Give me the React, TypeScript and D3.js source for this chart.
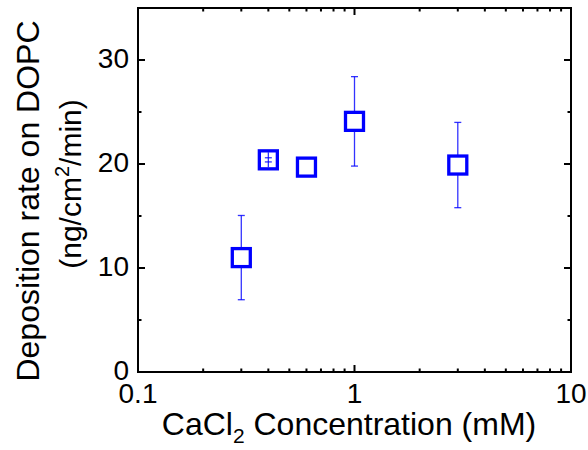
import React from "react";
import * as d3 from "d3";

const concentrations = [0.3, 0.4, 0.6, 1, 3];
const rates = [11.0, 20.4, 19.7, 24.1, 19.9];
const errors = [4.05, 0.2, 0, 4.3, 4.1];
const xTickValues = [0.1, 1, 10];
const xTickLabels = ["0.1", "1", "10"];
const yTickValues = [0, 10, 20, 30];
const yMinorValues = [5, 15, 25];

const W = 588;
const H = 450;
const L = 138, R = 571, T = 8, B = 372;
const FONT = "'Liberation Sans', Arial, sans-serif";
const BLUE = "#0000ff";

export default function App() {
  const x = d3.scaleLog().domain([0.1, 10]).range([L, R]);
  const y = d3.scaleLinear().domain([0, 35]).range([B, T]);
  const minorX: number[] = [];
  for (const dec of [0.1, 1]) for (let k = 2; k <= 9; k++) minorX.push(dec * k);
  const half = 9;

  return (
    <svg width={W} height={H} style={{ position: "absolute", left: 0, top: 0, background: "#fff" }}>
      {/* error bars */}
      {concentrations.map((c, i) => {
        const e = errors[i];
        if (e <= 0) return null;
        const cx = x(c), cy = y(rates[i]);
        const yt = y(rates[i] + e), yb = y(rates[i] - e);
        const small = cy - yt < half;
        return (
          <g key={"e" + i} stroke={BLUE} strokeWidth={1.3} strokeOpacity={0.8}>
            {small ? (
              <line x1={cx} x2={cx} y1={cy - half + 1.5} y2={cy + half - 1.5} />
            ) : (
              <>
                <line x1={cx} x2={cx} y1={yt} y2={cy - half} />
                <line x1={cx} x2={cx} y1={cy + half} y2={yb} />
              </>
            )}
            <line x1={cx - 3.5} x2={cx + 3.5} y1={yt} y2={yt} />
            <line x1={cx - 3.5} x2={cx + 3.5} y1={yb} y2={yb} />
          </g>
        );
      })}
      {/* markers */}
      {concentrations.map((c, i) => (
        <rect key={"m" + i} x={x(c) - half} y={y(rates[i]) - half} width={half * 2} height={half * 2}
          fill="none" stroke={BLUE} strokeWidth={3.3} />
      ))}
      {/* frame */}
      <rect x={L} y={T} width={R - L} height={B - T} fill="none" stroke="#000" strokeWidth={2} />
      {/* x ticks */}
      {xTickValues.map((v) => (
        <g key={"xt" + v} stroke="#000" strokeWidth={2}>
          <line x1={x(v)} x2={x(v)} y1={B} y2={B - 7} />
          <line x1={x(v)} x2={x(v)} y1={T} y2={T + 7} />
        </g>
      ))}
      {minorX.map((v) => (
        <g key={"xm" + v} stroke="#000" strokeWidth={2}>
          <line x1={x(v)} x2={x(v)} y1={B} y2={B - 3.5} />
          <line x1={x(v)} x2={x(v)} y1={T} y2={T + 3.5} />
        </g>
      ))}
      {yTickValues.map((v) => (
        <g key={"yt" + v} stroke="#000" strokeWidth={2}>
          <line x1={L} x2={L + 7} y1={y(v)} y2={y(v)} />
          <line x1={R} x2={R - 7} y1={y(v)} y2={y(v)} />
        </g>
      ))}
      {yMinorValues.map((v) => (
        <g key={"ym" + v} stroke="#000" strokeWidth={2}>
          <line x1={L} x2={L + 3.5} y1={y(v)} y2={y(v)} />
          <line x1={R} x2={R - 3.5} y1={y(v)} y2={y(v)} />
        </g>
      ))}
      {/* tick labels */}
      {xTickValues.map((v, i) => (
        <text key={"xl" + v} x={x(v)} y={403} textAnchor="middle" fontFamily={FONT} fontSize={28} fill="#000">
          {xTickLabels[i]}
        </text>
      ))}
      {yTickValues.map((v) => (
        <text key={"yl" + v} x={129} y={y(v) + 8} textAnchor="end" fontFamily={FONT} fontSize={28} fill="#000">
          {v}
        </text>
      ))}
      {/* axis titles */}
      <text x={349} y={435} textAnchor="middle" fontFamily={FONT} fontSize={32} fill="#000">
        CaCl<tspan fontSize={21} dy={8}>2</tspan><tspan dy={-8}> Concentration (mM)</tspan>
      </text>
      <text transform="translate(39,201) rotate(-90)" textAnchor="middle" fontFamily={FONT} fontSize={32} fill="#000">
        Deposition rate on DOPC
      </text>
      <text transform="translate(81,184) rotate(-90)" textAnchor="middle" fontFamily={FONT} fontSize={30} fill="#000">
        (ng/cm<tspan fontSize={20} dy={-12}>2</tspan><tspan dy={12}>/min)</tspan>
      </text>
    </svg>
  );
}
